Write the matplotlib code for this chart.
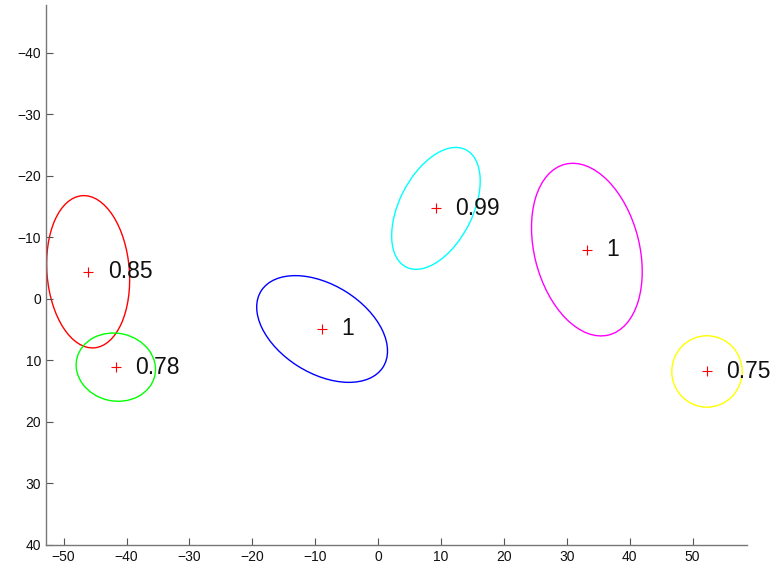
import matplotlib
matplotlib.use('Agg')
import matplotlib.pyplot as plt
from matplotlib.patches import Ellipse

# cluster centres (x, y) and their labels
cx = [-46.1, -41.7, -8.9, 9.2, 33.2, 52.3]
cy = [-4.4, 11.1, 4.9, -14.7, -8.0, 11.8]
labels = ['0.85', '0.78', '1', '0.99', '1', '0.75']
# ellipse full axes and orientation (data units / degrees)
ell_w = [24.8, 12.7, 23.0, 21.3, 28.6, 11.2]
ell_h = [13.1, 11.0, 14.3, 11.7, 16.7, 11.6]
ell_ang = [85.6, 13.0, 33.0, -63.9, 76.1, 0.0]
colors = ['#ff0000', '#00ff00', '#0000ff', '#00ffff', '#ff00ff', '#ffff00']

xticks = list(range(-50, 51, 10))
yticks = list(range(-40, 41, 10))

plt.rcParams['font.family'] = ['Liberation Sans', 'DejaVu Sans']

fig = plt.figure(figsize=(7.8, 5.68), dpi=100)
ax = fig.add_axes([0.059, 0.0405, 0.899, 0.9507])

for x, y, w, h, a, c in zip(cx, cy, ell_w, ell_h, ell_ang, colors):
    ax.add_patch(Ellipse((x, y), w, h, angle=a, fill=False, edgecolor=c, lw=1.0))

ax.plot(cx, cy, '+', color='#ff0000', markersize=6.5, markeredgewidth=0.8, linestyle='none')
for x, y, t in zip(cx, cy, labels):
    ax.text(x + 3.1, y, t, fontsize=16.5, ha='left', va='center', color='#111111')

ax.set_xlim(-52.8, 58.7)
ax.set_ylim(40.0, -47.75)
ax.set_xticks(xticks)
ax.set_yticks(yticks)
ax.tick_params(direction='in', length=5, width=0.8, color='#555555', labelsize=10, labelcolor='#111111')
for s in ['top', 'right']:
    ax.spines[s].set_visible(False)
for s in ['left', 'bottom']:
    ax.spines[s].set_color('#777777')
    ax.spines[s].set_linewidth(1.0)

fig.savefig('out.png', dpi=100)
